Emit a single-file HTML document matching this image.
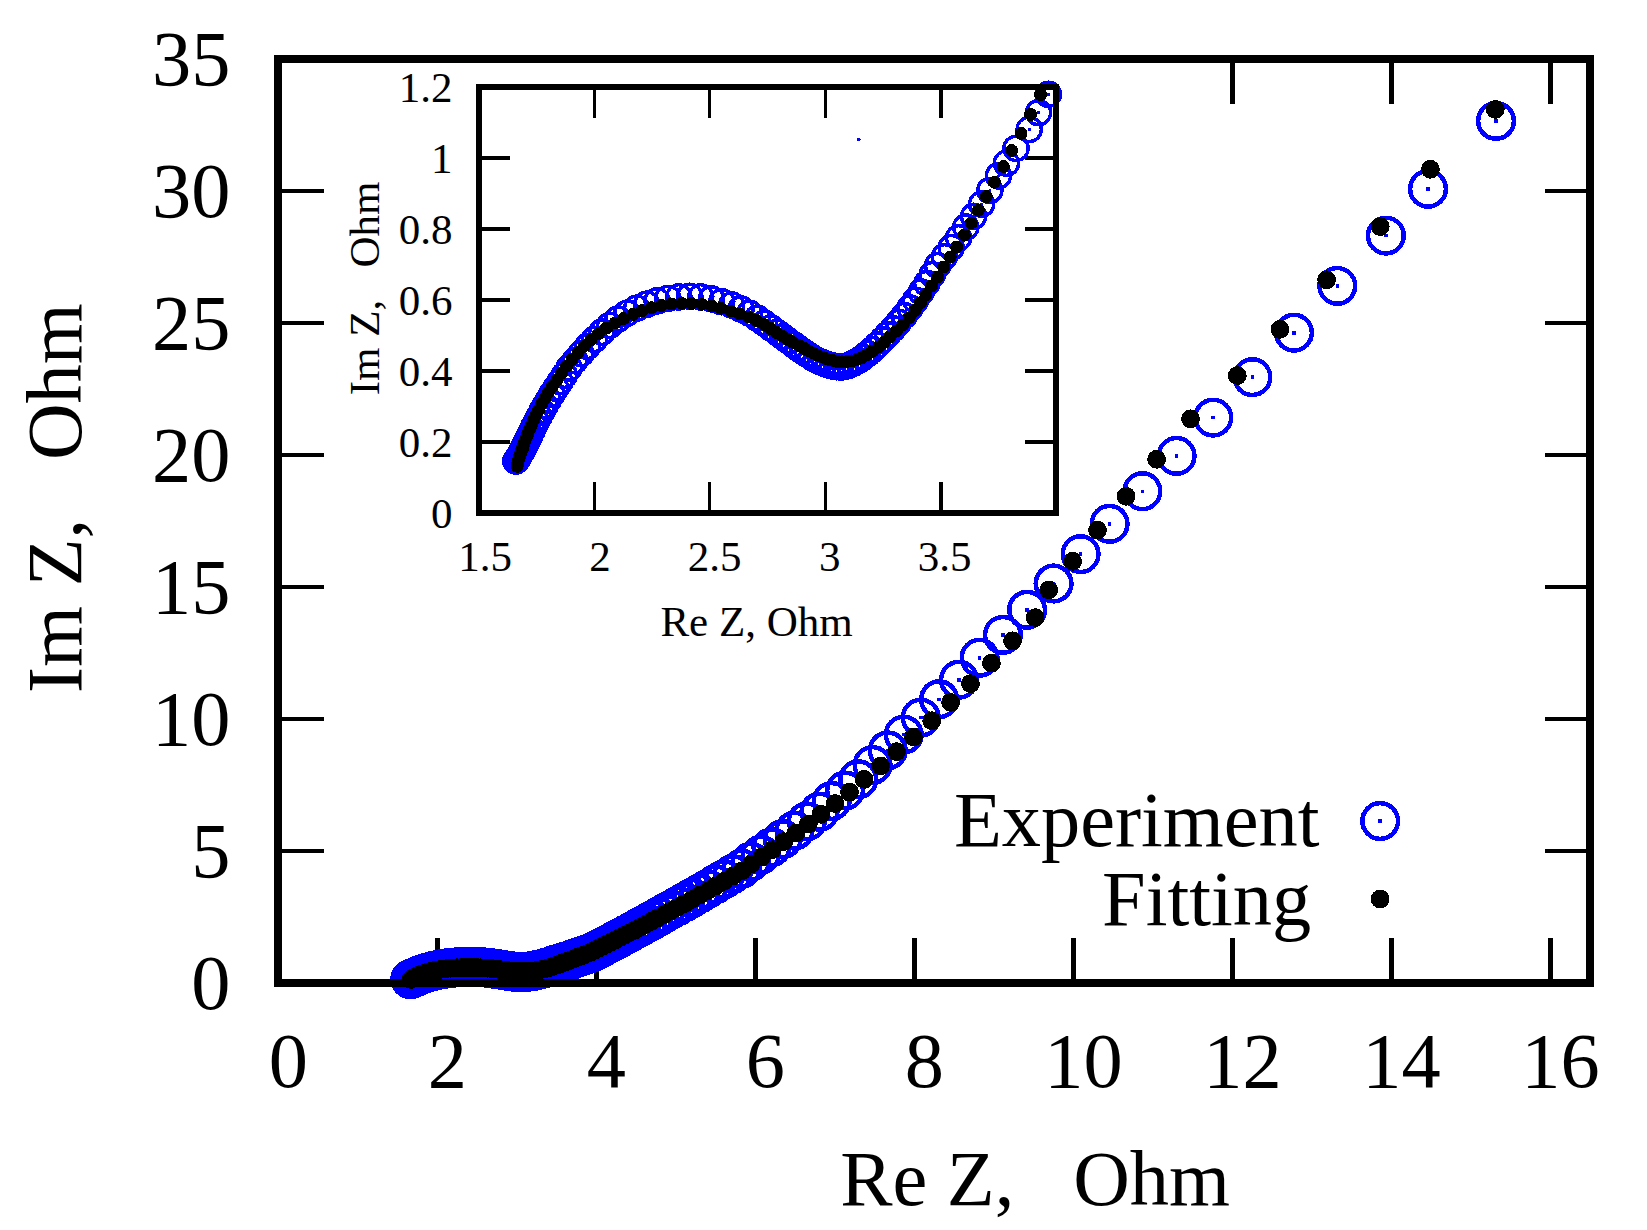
<!DOCTYPE html>
<html lang="en"><head><meta charset="utf-8"><title>Nyquist plot</title>
<style>html,body{margin:0;padding:0;background:#fff}svg{display:block}</style></head>
<body>
<svg width="1647" height="1230" viewBox="0 0 1647 1230">
<rect width="1647" height="1230" fill="#fff"/>
<g shape-rendering="crispEdges">
<rect x="435" y="938" width="5" height="43" fill="#000"/>
<rect x="594" y="938" width="5" height="43" fill="#000"/>
<rect x="753" y="938" width="5" height="43" fill="#000"/>
<rect x="912" y="938" width="5" height="43" fill="#000"/>
<rect x="1071" y="938" width="5" height="43" fill="#000"/>
<rect x="1230" y="938" width="5" height="43" fill="#000"/>
<rect x="1230" y="61" width="5" height="43" fill="#000"/>
<rect x="1389" y="938" width="5" height="43" fill="#000"/>
<rect x="1389" y="61" width="5" height="43" fill="#000"/>
<rect x="1548" y="938" width="5" height="43" fill="#000"/>
<rect x="1548" y="61" width="5" height="43" fill="#000"/>
<rect x="280" y="849" width="44" height="4" fill="#000"/>
<rect x="1545" y="849" width="43" height="4" fill="#000"/>
<rect x="280" y="717" width="44" height="4" fill="#000"/>
<rect x="1545" y="717" width="43" height="4" fill="#000"/>
<rect x="280" y="585" width="44" height="4" fill="#000"/>
<rect x="1545" y="585" width="43" height="4" fill="#000"/>
<rect x="280" y="453" width="44" height="4" fill="#000"/>
<rect x="1545" y="453" width="43" height="4" fill="#000"/>
<rect x="280" y="321" width="44" height="4" fill="#000"/>
<rect x="1545" y="321" width="43" height="4" fill="#000"/>
<rect x="280" y="189" width="44" height="4" fill="#000"/>
<rect x="1545" y="189" width="43" height="4" fill="#000"/>
</g>
<g fill="none" stroke="#0000ff" stroke-width="4.5" shape-rendering="crispEdges">
<circle cx="1496.0" cy="120.9" r="17.85"/>
<circle cx="1428.0" cy="188.8" r="17.85"/>
<circle cx="1385.9" cy="235.6" r="17.85"/>
<circle cx="1337.3" cy="285.9" r="17.85"/>
<circle cx="1294.0" cy="332.7" r="17.85"/>
<circle cx="1252.4" cy="377.1" r="17.85"/>
<circle cx="1213.2" cy="417.6" r="17.85"/>
<circle cx="1176.6" cy="455.9" r="17.85"/>
<circle cx="1142.4" cy="491.2" r="17.85"/>
<circle cx="1109.6" cy="523.8" r="17.85"/>
<circle cx="1080.6" cy="554.1" r="17.85"/>
<circle cx="1053.6" cy="583.5" r="17.85"/>
<circle cx="1027.1" cy="609.8" r="17.85"/>
<circle cx="1002.9" cy="634.9" r="17.85"/>
<circle cx="979.6" cy="657.7" r="17.85"/>
<circle cx="959.0" cy="679.7" r="17.85"/>
<circle cx="939.1" cy="699.2" r="17.85"/>
<circle cx="920.8" cy="717.6" r="17.85"/>
<circle cx="903.7" cy="734.6" r="17.85"/>
<circle cx="887.7" cy="750.4" r="17.85"/>
<circle cx="872.6" cy="765.0" r="17.85"/>
<circle cx="858.3" cy="779.3" r="17.85"/>
<circle cx="845.1" cy="790.5" r="17.85"/>
<circle cx="831.7" cy="801.0" r="17.85"/>
<circle cx="819.5" cy="811.7" r="17.85"/>
<circle cx="806.8" cy="821.4" r="17.85"/>
<circle cx="794.5" cy="830.6" r="17.85"/>
<circle cx="782.7" cy="839.2" r="17.85"/>
<circle cx="771.5" cy="847.3" r="17.85"/>
<circle cx="760.8" cy="854.8" r="17.85"/>
<circle cx="750.8" cy="861.7" r="17.85"/>
<circle cx="741.8" cy="868.6" r="17.85"/>
<circle cx="732.6" cy="874.0" r="17.85"/>
<circle cx="723.8" cy="879.3" r="17.85"/>
<circle cx="715.4" cy="884.3" r="17.85"/>
<circle cx="707.3" cy="889.1" r="17.85"/>
<circle cx="699.5" cy="893.6" r="17.85"/>
<circle cx="692.0" cy="897.9" r="17.85"/>
<circle cx="684.8" cy="902.1" r="17.85"/>
<circle cx="677.8" cy="906.0" r="17.85"/>
<circle cx="671.2" cy="909.7" r="17.85"/>
<circle cx="664.7" cy="913.3" r="17.85"/>
<circle cx="658.6" cy="916.8" r="17.85"/>
<circle cx="652.6" cy="920.1" r="17.85"/>
<circle cx="647.0" cy="923.2" r="17.85"/>
<circle cx="641.5" cy="926.2" r="17.85"/>
<circle cx="636.2" cy="929.1" r="17.85"/>
<circle cx="631.2" cy="931.9" r="17.85"/>
<circle cx="626.3" cy="934.5" r="17.85"/>
<circle cx="621.7" cy="937.0" r="17.85"/>
<circle cx="617.2" cy="939.4" r="17.85"/>
<circle cx="612.9" cy="941.7" r="17.85"/>
<circle cx="608.7" cy="943.9" r="17.85"/>
<circle cx="604.7" cy="946.0" r="17.85"/>
<circle cx="600.9" cy="948.0" r="17.85"/>
<circle cx="597.3" cy="950.0" r="17.85"/>
<circle cx="593.6" cy="951.9" r="17.85"/>
<circle cx="590.2" cy="953.2" r="17.85"/>
<circle cx="587.0" cy="954.5" r="17.85"/>
<circle cx="582.5" cy="955.9" r="17.85"/>
<circle cx="579.2" cy="957.0" r="17.85"/>
<circle cx="576.4" cy="957.9" r="17.85"/>
<circle cx="573.4" cy="959.0" r="17.85"/>
<circle cx="570.6" cy="960.0" r="17.85"/>
<circle cx="567.9" cy="960.9" r="17.85"/>
<circle cx="565.2" cy="961.7" r="17.85"/>
<circle cx="562.7" cy="962.5" r="17.85"/>
<circle cx="560.2" cy="963.3" r="17.85"/>
<circle cx="557.8" cy="963.9" r="17.85"/>
<circle cx="555.5" cy="964.6" r="17.85"/>
<circle cx="553.7" cy="965.3" r="17.85"/>
<circle cx="551.8" cy="965.9" r="17.85"/>
<circle cx="549.9" cy="966.6" r="17.85"/>
<circle cx="547.9" cy="967.2" r="17.85"/>
<circle cx="545.9" cy="967.8" r="17.85"/>
<circle cx="544.0" cy="968.3" r="17.85"/>
<circle cx="542.1" cy="968.8" r="17.85"/>
<circle cx="540.1" cy="969.3" r="17.85"/>
<circle cx="538.3" cy="969.7" r="17.85"/>
<circle cx="536.5" cy="970.1" r="17.85"/>
<circle cx="534.7" cy="970.5" r="17.85"/>
<circle cx="533.1" cy="970.9" r="17.85"/>
<circle cx="531.4" cy="971.2" r="17.85"/>
<circle cx="529.8" cy="971.4" r="17.85"/>
<circle cx="528.2" cy="971.7" r="17.85"/>
<circle cx="526.7" cy="971.8" r="17.85"/>
<circle cx="525.1" cy="972.0" r="17.85"/>
<circle cx="523.6" cy="972.1" r="17.85"/>
<circle cx="522.1" cy="972.1" r="17.85"/>
<circle cx="520.7" cy="972.1" r="17.85"/>
<circle cx="519.4" cy="972.1" r="17.85"/>
<circle cx="518.0" cy="972.0" r="17.85"/>
<circle cx="516.5" cy="971.9" r="17.85"/>
<circle cx="515.1" cy="971.8" r="17.85"/>
<circle cx="513.6" cy="971.6" r="17.85"/>
<circle cx="512.2" cy="971.4" r="17.85"/>
<circle cx="510.7" cy="971.2" r="17.85"/>
<circle cx="509.1" cy="971.0" r="17.85"/>
<circle cx="507.5" cy="970.7" r="17.85"/>
<circle cx="505.8" cy="970.5" r="17.85"/>
<circle cx="504.1" cy="970.2" r="17.85"/>
<circle cx="502.2" cy="969.9" r="17.85"/>
<circle cx="500.2" cy="969.6" r="17.85"/>
<circle cx="498.1" cy="969.2" r="17.85"/>
<circle cx="495.9" cy="968.9" r="17.85"/>
<circle cx="493.4" cy="968.5" r="17.85"/>
<circle cx="490.8" cy="968.2" r="17.85"/>
<circle cx="487.8" cy="967.8" r="17.85"/>
<circle cx="484.6" cy="967.5" r="17.85"/>
<circle cx="481.2" cy="967.3" r="17.85"/>
<circle cx="477.6" cy="967.1" r="17.85"/>
<circle cx="473.9" cy="966.9" r="17.85"/>
<circle cx="470.2" cy="966.9" r="17.85"/>
<circle cx="466.4" cy="966.9" r="17.85"/>
<circle cx="462.7" cy="967.0" r="17.85"/>
<circle cx="459.0" cy="967.2" r="17.85"/>
<circle cx="455.4" cy="967.5" r="17.85"/>
<circle cx="451.9" cy="967.8" r="17.85"/>
<circle cx="448.6" cy="968.1" r="17.85"/>
<circle cx="445.5" cy="968.6" r="17.85"/>
<circle cx="442.6" cy="969.1" r="17.85"/>
<circle cx="439.9" cy="969.6" r="17.85"/>
<circle cx="437.4" cy="970.1" r="17.85"/>
<circle cx="435.0" cy="970.6" r="17.85"/>
<circle cx="432.7" cy="971.1" r="17.85"/>
<circle cx="430.6" cy="971.7" r="17.85"/>
<circle cx="428.7" cy="972.2" r="17.85"/>
<circle cx="427.0" cy="972.7" r="17.85"/>
<circle cx="425.5" cy="973.2" r="17.85"/>
<circle cx="424.1" cy="973.7" r="17.85"/>
<circle cx="422.7" cy="974.2" r="17.85"/>
<circle cx="421.5" cy="974.6" r="17.85"/>
<circle cx="420.3" cy="975.0" r="17.85"/>
<circle cx="419.3" cy="975.4" r="17.85"/>
<circle cx="418.3" cy="975.8" r="17.85"/>
<circle cx="417.4" cy="976.2" r="17.85"/>
<circle cx="416.7" cy="976.5" r="17.85"/>
<circle cx="415.9" cy="976.9" r="17.85"/>
<circle cx="415.3" cy="977.2" r="17.85"/>
<circle cx="414.6" cy="977.4" r="17.85"/>
<circle cx="414.0" cy="977.7" r="17.85"/>
<circle cx="413.5" cy="977.9" r="17.85"/>
<circle cx="413.0" cy="978.2" r="17.85"/>
<circle cx="412.5" cy="978.4" r="17.85"/>
<circle cx="412.0" cy="978.6" r="17.85"/>
<circle cx="411.6" cy="978.7" r="17.85"/>
<circle cx="411.2" cy="978.9" r="17.85"/>
<circle cx="410.7" cy="979.0" r="17.85"/>
<circle cx="410.3" cy="979.1" r="17.85"/>
</g>
<g fill="#0000ff" shape-rendering="crispEdges">
<rect x="1494.2" y="119.1" width="3.5" height="3.5"/>
<rect x="1426.2" y="187.0" width="3.5" height="3.5"/>
<rect x="1384.2" y="233.9" width="3.5" height="3.5"/>
<rect x="1335.6" y="284.1" width="3.5" height="3.5"/>
<rect x="1292.2" y="331.0" width="3.5" height="3.5"/>
<rect x="1250.7" y="375.4" width="3.5" height="3.5"/>
<rect x="1211.4" y="415.9" width="3.5" height="3.5"/>
<rect x="1174.8" y="454.1" width="3.5" height="3.5"/>
<rect x="1140.7" y="489.5" width="3.5" height="3.5"/>
<rect x="1107.8" y="522.0" width="3.5" height="3.5"/>
<rect x="1078.8" y="552.4" width="3.5" height="3.5"/>
<rect x="1051.8" y="581.8" width="3.5" height="3.5"/>
<rect x="1025.3" y="608.0" width="3.5" height="3.5"/>
<rect x="1001.1" y="633.1" width="3.5" height="3.5"/>
<rect x="977.9" y="656.0" width="3.5" height="3.5"/>
<rect x="957.2" y="678.0" width="3.5" height="3.5"/>
<rect x="937.4" y="697.5" width="3.5" height="3.5"/>
<rect x="919.0" y="715.9" width="3.5" height="3.5"/>
<rect x="902.0" y="732.9" width="3.5" height="3.5"/>
<rect x="886.0" y="748.6" width="3.5" height="3.5"/>
<rect x="870.9" y="763.2" width="3.5" height="3.5"/>
<rect x="856.5" y="777.5" width="3.5" height="3.5"/>
<rect x="843.4" y="788.8" width="3.5" height="3.5"/>
<rect x="830.0" y="799.2" width="3.5" height="3.5"/>
<rect x="817.8" y="810.0" width="3.5" height="3.5"/>
<rect x="805.0" y="819.6" width="3.5" height="3.5"/>
<rect x="792.8" y="828.9" width="3.5" height="3.5"/>
<rect x="780.9" y="837.5" width="3.5" height="3.5"/>
<rect x="769.8" y="845.6" width="3.5" height="3.5"/>
<rect x="759.1" y="853.0" width="3.5" height="3.5"/>
<rect x="749.0" y="859.9" width="3.5" height="3.5"/>
<rect x="740.0" y="866.9" width="3.5" height="3.5"/>
<rect x="730.8" y="872.2" width="3.5" height="3.5"/>
<rect x="722.1" y="877.5" width="3.5" height="3.5"/>
<rect x="713.7" y="882.6" width="3.5" height="3.5"/>
<rect x="705.6" y="887.3" width="3.5" height="3.5"/>
<rect x="697.8" y="891.9" width="3.5" height="3.5"/>
<rect x="690.3" y="896.2" width="3.5" height="3.5"/>
<rect x="683.1" y="900.3" width="3.5" height="3.5"/>
<rect x="676.1" y="904.2" width="3.5" height="3.5"/>
<rect x="669.4" y="908.0" width="3.5" height="3.5"/>
<rect x="663.0" y="911.6" width="3.5" height="3.5"/>
<rect x="656.8" y="915.0" width="3.5" height="3.5"/>
<rect x="650.9" y="918.3" width="3.5" height="3.5"/>
<rect x="645.2" y="921.5" width="3.5" height="3.5"/>
<rect x="639.7" y="924.5" width="3.5" height="3.5"/>
<rect x="634.5" y="927.4" width="3.5" height="3.5"/>
<rect x="629.4" y="930.1" width="3.5" height="3.5"/>
<rect x="624.6" y="932.8" width="3.5" height="3.5"/>
<rect x="619.9" y="935.3" width="3.5" height="3.5"/>
<rect x="615.4" y="937.7" width="3.5" height="3.5"/>
<rect x="611.1" y="940.0" width="3.5" height="3.5"/>
<rect x="607.0" y="942.2" width="3.5" height="3.5"/>
<rect x="603.0" y="944.3" width="3.5" height="3.5"/>
<rect x="599.2" y="946.3" width="3.5" height="3.5"/>
<rect x="595.5" y="948.2" width="3.5" height="3.5"/>
<rect x="591.9" y="950.1" width="3.5" height="3.5"/>
<rect x="588.5" y="951.5" width="3.5" height="3.5"/>
<rect x="585.3" y="952.7" width="3.5" height="3.5"/>
<rect x="580.7" y="954.1" width="3.5" height="3.5"/>
<rect x="577.4" y="955.2" width="3.5" height="3.5"/>
<rect x="574.7" y="956.2" width="3.5" height="3.5"/>
<rect x="571.7" y="957.3" width="3.5" height="3.5"/>
<rect x="568.9" y="958.3" width="3.5" height="3.5"/>
<rect x="566.1" y="959.2" width="3.5" height="3.5"/>
<rect x="563.4" y="960.0" width="3.5" height="3.5"/>
<rect x="561.0" y="960.8" width="3.5" height="3.5"/>
<rect x="558.4" y="961.5" width="3.5" height="3.5"/>
<rect x="556.1" y="962.2" width="3.5" height="3.5"/>
<rect x="553.7" y="962.9" width="3.5" height="3.5"/>
<rect x="551.9" y="963.5" width="3.5" height="3.5"/>
<rect x="550.1" y="964.2" width="3.5" height="3.5"/>
<rect x="548.1" y="964.8" width="3.5" height="3.5"/>
<rect x="546.1" y="965.4" width="3.5" height="3.5"/>
<rect x="544.2" y="966.0" width="3.5" height="3.5"/>
<rect x="542.3" y="966.6" width="3.5" height="3.5"/>
<rect x="540.3" y="967.1" width="3.5" height="3.5"/>
<rect x="538.4" y="967.5" width="3.5" height="3.5"/>
<rect x="536.5" y="968.0" width="3.5" height="3.5"/>
<rect x="534.7" y="968.4" width="3.5" height="3.5"/>
<rect x="533.0" y="968.8" width="3.5" height="3.5"/>
<rect x="531.3" y="969.1" width="3.5" height="3.5"/>
<rect x="529.7" y="969.4" width="3.5" height="3.5"/>
<rect x="528.0" y="969.7" width="3.5" height="3.5"/>
<rect x="526.5" y="969.9" width="3.5" height="3.5"/>
<rect x="524.9" y="970.1" width="3.5" height="3.5"/>
<rect x="523.4" y="970.2" width="3.5" height="3.5"/>
<rect x="521.9" y="970.4" width="3.5" height="3.5"/>
<rect x="520.4" y="970.4" width="3.5" height="3.5"/>
<rect x="519.0" y="970.4" width="3.5" height="3.5"/>
<rect x="517.6" y="970.3" width="3.5" height="3.5"/>
<rect x="516.2" y="970.2" width="3.5" height="3.5"/>
<rect x="514.8" y="970.1" width="3.5" height="3.5"/>
<rect x="513.4" y="970.0" width="3.5" height="3.5"/>
<rect x="511.9" y="969.8" width="3.5" height="3.5"/>
<rect x="510.4" y="969.7" width="3.5" height="3.5"/>
<rect x="508.9" y="969.5" width="3.5" height="3.5"/>
<rect x="507.4" y="969.2" width="3.5" height="3.5"/>
<rect x="505.8" y="969.0" width="3.5" height="3.5"/>
<rect x="504.1" y="968.7" width="3.5" height="3.5"/>
<rect x="502.3" y="968.4" width="3.5" height="3.5"/>
<rect x="500.5" y="968.1" width="3.5" height="3.5"/>
<rect x="498.5" y="967.8" width="3.5" height="3.5"/>
<rect x="496.4" y="967.5" width="3.5" height="3.5"/>
<rect x="494.1" y="967.1" width="3.5" height="3.5"/>
<rect x="491.7" y="966.8" width="3.5" height="3.5"/>
<rect x="489.0" y="966.4" width="3.5" height="3.5"/>
<rect x="486.1" y="966.1" width="3.5" height="3.5"/>
<rect x="482.8" y="965.8" width="3.5" height="3.5"/>
<rect x="479.4" y="965.5" width="3.5" height="3.5"/>
<rect x="475.9" y="965.3" width="3.5" height="3.5"/>
<rect x="472.2" y="965.2" width="3.5" height="3.5"/>
<rect x="468.4" y="965.1" width="3.5" height="3.5"/>
<rect x="464.7" y="965.2" width="3.5" height="3.5"/>
<rect x="460.9" y="965.3" width="3.5" height="3.5"/>
<rect x="457.2" y="965.5" width="3.5" height="3.5"/>
<rect x="453.6" y="965.7" width="3.5" height="3.5"/>
<rect x="450.2" y="966.0" width="3.5" height="3.5"/>
<rect x="446.9" y="966.4" width="3.5" height="3.5"/>
<rect x="443.8" y="966.8" width="3.5" height="3.5"/>
<rect x="440.9" y="967.3" width="3.5" height="3.5"/>
<rect x="438.2" y="967.8" width="3.5" height="3.5"/>
<rect x="435.6" y="968.3" width="3.5" height="3.5"/>
<rect x="433.3" y="968.9" width="3.5" height="3.5"/>
<rect x="431.0" y="969.4" width="3.5" height="3.5"/>
<rect x="428.9" y="969.9" width="3.5" height="3.5"/>
<rect x="426.9" y="970.5" width="3.5" height="3.5"/>
<rect x="425.3" y="971.0" width="3.5" height="3.5"/>
<rect x="423.8" y="971.5" width="3.5" height="3.5"/>
<rect x="422.3" y="972.0" width="3.5" height="3.5"/>
<rect x="421.0" y="972.4" width="3.5" height="3.5"/>
<rect x="419.7" y="972.9" width="3.5" height="3.5"/>
<rect x="418.6" y="973.3" width="3.5" height="3.5"/>
<rect x="417.5" y="973.7" width="3.5" height="3.5"/>
<rect x="416.6" y="974.1" width="3.5" height="3.5"/>
<rect x="415.7" y="974.4" width="3.5" height="3.5"/>
<rect x="414.9" y="974.8" width="3.5" height="3.5"/>
<rect x="414.2" y="975.1" width="3.5" height="3.5"/>
<rect x="413.5" y="975.4" width="3.5" height="3.5"/>
<rect x="412.9" y="975.7" width="3.5" height="3.5"/>
<rect x="412.3" y="975.9" width="3.5" height="3.5"/>
<rect x="411.7" y="976.2" width="3.5" height="3.5"/>
<rect x="411.2" y="976.4" width="3.5" height="3.5"/>
<rect x="410.7" y="976.6" width="3.5" height="3.5"/>
<rect x="410.3" y="976.8" width="3.5" height="3.5"/>
<rect x="409.8" y="977.0" width="3.5" height="3.5"/>
<rect x="409.4" y="977.1" width="3.5" height="3.5"/>
<rect x="409.0" y="977.3" width="3.5" height="3.5"/>
<rect x="408.6" y="977.4" width="3.5" height="3.5"/>
</g>
<g fill="#000" shape-rendering="crispEdges">
<circle cx="1495.3" cy="109.4" r="9.4"/>
<circle cx="1430.4" cy="169.3" r="9.4"/>
<circle cx="1380.2" cy="226.6" r="9.4"/>
<circle cx="1326.6" cy="279.8" r="9.4"/>
<circle cx="1279.9" cy="329.4" r="9.4"/>
<circle cx="1237.3" cy="375.6" r="9.4"/>
<circle cx="1190.5" cy="418.8" r="9.4"/>
<circle cx="1156.6" cy="459.3" r="9.4"/>
<circle cx="1126.1" cy="496.3" r="9.4"/>
<circle cx="1097.5" cy="530.2" r="9.4"/>
<circle cx="1072.6" cy="561.3" r="9.4"/>
<circle cx="1048.7" cy="589.9" r="9.4"/>
<circle cx="1035.2" cy="617.6" r="9.4"/>
<circle cx="1012.5" cy="640.8" r="9.4"/>
<circle cx="991.4" cy="663.2" r="9.4"/>
<circle cx="970.5" cy="683.6" r="9.4"/>
<circle cx="950.6" cy="702.4" r="9.4"/>
<circle cx="931.7" cy="720.7" r="9.4"/>
<circle cx="913.5" cy="736.9" r="9.4"/>
<circle cx="896.6" cy="751.6" r="9.4"/>
<circle cx="880.6" cy="765.9" r="9.4"/>
<circle cx="864.1" cy="779.4" r="9.4"/>
<circle cx="849.5" cy="792.1" r="9.4"/>
<circle cx="835.0" cy="803.5" r="9.4"/>
<circle cx="821.0" cy="814.3" r="9.4"/>
<circle cx="808.3" cy="824.0" r="9.4"/>
<circle cx="795.8" cy="833.1" r="9.4"/>
<circle cx="783.8" cy="841.6" r="9.4"/>
<circle cx="772.4" cy="849.6" r="9.4"/>
<circle cx="761.6" cy="857.0" r="9.4"/>
<circle cx="751.4" cy="863.8" r="9.4"/>
<circle cx="742.3" cy="870.6" r="9.4"/>
<circle cx="733.1" cy="876.0" r="9.4"/>
<circle cx="724.2" cy="881.2" r="9.4"/>
<circle cx="715.7" cy="886.1" r="9.4"/>
<circle cx="707.4" cy="890.8" r="9.4"/>
<circle cx="699.5" cy="895.3" r="9.4"/>
<circle cx="691.8" cy="899.5" r="9.4"/>
<circle cx="684.5" cy="903.6" r="9.4"/>
<circle cx="677.4" cy="907.4" r="9.4"/>
<circle cx="670.6" cy="911.1" r="9.4"/>
<circle cx="664.0" cy="914.6" r="9.4"/>
<circle cx="657.7" cy="917.9" r="9.4"/>
<circle cx="651.6" cy="921.2" r="9.4"/>
<circle cx="645.8" cy="924.2" r="9.4"/>
<circle cx="640.2" cy="927.2" r="9.4"/>
<circle cx="634.8" cy="930.0" r="9.4"/>
<circle cx="629.6" cy="932.6" r="9.4"/>
<circle cx="624.6" cy="935.2" r="9.4"/>
<circle cx="619.8" cy="937.6" r="9.4"/>
<circle cx="615.2" cy="940.0" r="9.4"/>
<circle cx="610.7" cy="942.2" r="9.4"/>
<circle cx="606.4" cy="944.3" r="9.4"/>
<circle cx="602.3" cy="946.3" r="9.4"/>
<circle cx="598.4" cy="948.2" r="9.4"/>
<circle cx="594.6" cy="950.1" r="9.4"/>
<circle cx="590.9" cy="951.9" r="9.4"/>
<circle cx="587.5" cy="953.4" r="9.4"/>
<circle cx="584.2" cy="954.8" r="9.4"/>
<circle cx="580.9" cy="956.0" r="9.4"/>
<circle cx="578.1" cy="957.2" r="9.4"/>
<circle cx="575.0" cy="958.4" r="9.4"/>
<circle cx="572.2" cy="959.5" r="9.4"/>
<circle cx="569.5" cy="960.5" r="9.4"/>
<circle cx="567.0" cy="961.4" r="9.4"/>
<circle cx="564.7" cy="962.3" r="9.4"/>
<circle cx="562.0" cy="963.2" r="9.4"/>
<circle cx="559.9" cy="964.0" r="9.4"/>
<circle cx="557.5" cy="964.7" r="9.4"/>
<circle cx="555.4" cy="965.4" r="9.4"/>
<circle cx="553.4" cy="966.1" r="9.4"/>
<circle cx="551.5" cy="966.8" r="9.4"/>
<circle cx="549.6" cy="967.4" r="9.4"/>
<circle cx="547.8" cy="967.9" r="9.4"/>
<circle cx="545.7" cy="968.5" r="9.4"/>
<circle cx="543.6" cy="969.0" r="9.4"/>
<circle cx="541.3" cy="969.5" r="9.4"/>
<circle cx="539.2" cy="969.9" r="9.4"/>
<circle cx="537.1" cy="970.3" r="9.4"/>
<circle cx="535.1" cy="970.7" r="9.4"/>
<circle cx="533.2" cy="971.0" r="9.4"/>
<circle cx="531.3" cy="971.2" r="9.4"/>
<circle cx="529.4" cy="971.4" r="9.4"/>
<circle cx="527.6" cy="971.6" r="9.4"/>
<circle cx="525.9" cy="971.7" r="9.4"/>
<circle cx="524.2" cy="971.7" r="9.4"/>
<circle cx="522.7" cy="971.8" r="9.4"/>
<circle cx="521.2" cy="971.7" r="9.4"/>
<circle cx="519.8" cy="971.7" r="9.4"/>
<circle cx="518.4" cy="971.6" r="9.4"/>
<circle cx="517.0" cy="971.5" r="9.4"/>
<circle cx="515.6" cy="971.4" r="9.4"/>
<circle cx="514.2" cy="971.3" r="9.4"/>
<circle cx="512.7" cy="971.1" r="9.4"/>
<circle cx="511.1" cy="970.9" r="9.4"/>
<circle cx="509.5" cy="970.8" r="9.4"/>
<circle cx="507.7" cy="970.6" r="9.4"/>
<circle cx="505.9" cy="970.3" r="9.4"/>
<circle cx="504.1" cy="970.1" r="9.4"/>
<circle cx="502.1" cy="969.9" r="9.4"/>
<circle cx="500.0" cy="969.6" r="9.4"/>
<circle cx="497.8" cy="969.3" r="9.4"/>
<circle cx="495.5" cy="969.0" r="9.4"/>
<circle cx="493.0" cy="968.7" r="9.4"/>
<circle cx="490.2" cy="968.4" r="9.4"/>
<circle cx="487.3" cy="968.2" r="9.4"/>
<circle cx="484.1" cy="968.0" r="9.4"/>
<circle cx="480.9" cy="967.8" r="9.4"/>
<circle cx="477.6" cy="967.6" r="9.4"/>
<circle cx="474.2" cy="967.5" r="9.4"/>
<circle cx="470.8" cy="967.4" r="9.4"/>
<circle cx="467.3" cy="967.4" r="9.4"/>
<circle cx="463.8" cy="967.5" r="9.4"/>
<circle cx="460.4" cy="967.6" r="9.4"/>
<circle cx="457.0" cy="967.7" r="9.4"/>
<circle cx="453.7" cy="968.0" r="9.4"/>
<circle cx="450.5" cy="968.2" r="9.4"/>
<circle cx="447.4" cy="968.5" r="9.4"/>
<circle cx="444.4" cy="968.9" r="9.4"/>
<circle cx="441.5" cy="969.2" r="9.4"/>
<circle cx="438.8" cy="969.7" r="9.4"/>
<circle cx="436.3" cy="970.1" r="9.4"/>
<circle cx="433.9" cy="970.6" r="9.4"/>
<circle cx="431.7" cy="971.1" r="9.4"/>
<circle cx="429.7" cy="971.6" r="9.4"/>
<circle cx="427.8" cy="972.1" r="9.4"/>
<circle cx="426.1" cy="972.6" r="9.4"/>
<circle cx="424.5" cy="973.1" r="9.4"/>
<circle cx="422.9" cy="973.6" r="9.4"/>
<circle cx="421.5" cy="974.0" r="9.4"/>
<circle cx="420.3" cy="974.5" r="9.4"/>
<circle cx="419.2" cy="974.9" r="9.4"/>
<circle cx="418.2" cy="975.3" r="9.4"/>
<circle cx="417.2" cy="975.7" r="9.4"/>
<circle cx="416.4" cy="976.1" r="9.4"/>
<circle cx="415.7" cy="976.5" r="9.4"/>
<circle cx="415.0" cy="976.8" r="9.4"/>
<circle cx="414.4" cy="977.1" r="9.4"/>
<circle cx="413.9" cy="977.4" r="9.4"/>
<circle cx="413.4" cy="977.7" r="9.4"/>
<circle cx="413.0" cy="977.9" r="9.4"/>
<circle cx="412.6" cy="978.2" r="9.4"/>
<circle cx="412.2" cy="978.4" r="9.4"/>
<circle cx="411.9" cy="978.6" r="9.4"/>
<circle cx="411.6" cy="978.8" r="9.4"/>
<circle cx="411.4" cy="978.9" r="9.4"/>
<circle cx="411.2" cy="979.1" r="9.4"/>
<circle cx="411.0" cy="979.3" r="9.4"/>
<circle cx="410.9" cy="979.4" r="9.4"/>
<circle cx="410.8" cy="979.5" r="9.4"/>
</g>
<g shape-rendering="crispEdges">
<circle cx="1380.2" cy="821" r="17.85" fill="none" stroke="#0000ff" stroke-width="4.5"/>
<rect x="1378.4" y="819.2" width="3.5" height="3.5" fill="#0000ff"/>
<circle cx="1380.2" cy="899" r="9.4" fill="#000"/>
</g>
<g shape-rendering="crispEdges">
<rect x="274" y="55" width="1320" height="8" fill="#000"/>
<rect x="274" y="979" width="1320" height="8" fill="#000"/>
<rect x="274" y="55" width="8" height="932" fill="#000"/>
<rect x="1586" y="55" width="8" height="932" fill="#000"/>
</g>
<g style="font-family:'Liberation Serif','Times New Roman',Times,serif;font-size:78.4px" fill="#000">
<text x="230.5" y="1009.0" text-anchor="end">0</text>
<text x="230.5" y="877.0" text-anchor="end">5</text>
<text x="230.5" y="745.0" text-anchor="end">10</text>
<text x="230.5" y="613.0" text-anchor="end">15</text>
<text x="230.5" y="481.0" text-anchor="end">20</text>
<text x="230.5" y="349.0" text-anchor="end">25</text>
<text x="230.5" y="217.0" text-anchor="end">30</text>
<text x="230.5" y="85.0" text-anchor="end">35</text>
<text x="288.4" y="1087" text-anchor="middle">0</text>
<text x="447.4" y="1087" text-anchor="middle">2</text>
<text x="606.4" y="1087" text-anchor="middle">4</text>
<text x="765.4" y="1087" text-anchor="middle">6</text>
<text x="924.4" y="1087" text-anchor="middle">8</text>
<text x="1083.4" y="1087" text-anchor="middle">10</text>
<text x="1242.4" y="1087" text-anchor="middle">12</text>
<text x="1401.4" y="1087" text-anchor="middle">14</text>
<text x="1560.4" y="1087" text-anchor="middle">16</text>
<text x="840.2" y="1204.7" xml:space="preserve">Re Z,   Ohm</text>
<text transform="translate(80.8,693) rotate(-90)" xml:space="preserve">Im Z,   Ohm</text>
<text x="1319.6" y="846.3" text-anchor="end">Experiment</text>
<text x="1311.2" y="925.3" text-anchor="end">Fitting</text>
</g>
<g shape-rendering="crispEdges">
<rect x="593" y="482" width="3" height="30" fill="#000"/>
<rect x="593" y="88" width="3" height="30" fill="#000"/>
<rect x="708" y="482" width="3" height="30" fill="#000"/>
<rect x="708" y="88" width="3" height="30" fill="#000"/>
<rect x="824" y="482" width="3" height="30" fill="#000"/>
<rect x="824" y="88" width="3" height="30" fill="#000"/>
<rect x="939" y="482" width="4" height="30" fill="#000"/>
<rect x="939" y="88" width="4" height="30" fill="#000"/>
<rect x="480" y="440" width="30" height="4" fill="#000"/>
<rect x="1025" y="440" width="30" height="4" fill="#000"/>
<rect x="480" y="369" width="30" height="4" fill="#000"/>
<rect x="1025" y="369" width="30" height="4" fill="#000"/>
<rect x="480" y="298" width="30" height="4" fill="#000"/>
<rect x="1025" y="298" width="30" height="4" fill="#000"/>
<rect x="480" y="227" width="30" height="4" fill="#000"/>
<rect x="1025" y="227" width="30" height="4" fill="#000"/>
<rect x="480" y="156" width="30" height="4" fill="#000"/>
<rect x="1025" y="156" width="30" height="4" fill="#000"/>
</g>
<g fill="none" stroke="#0000ff" stroke-width="3.4" shape-rendering="crispEdges">
<circle cx="1048.4" cy="94.3" r="12.15"/>
<circle cx="1038.5" cy="112.6" r="12.15"/>
<circle cx="1029.2" cy="129.4" r="12.15"/>
<circle cx="1016.0" cy="148.4" r="12.15"/>
<circle cx="1006.4" cy="163.2" r="12.15"/>
<circle cx="998.4" cy="175.9" r="12.15"/>
<circle cx="989.8" cy="190.5" r="12.15"/>
<circle cx="981.6" cy="204.1" r="12.15"/>
<circle cx="973.6" cy="216.3" r="12.15"/>
<circle cx="965.8" cy="227.1" r="12.15"/>
<circle cx="958.6" cy="237.8" r="12.15"/>
<circle cx="951.2" cy="247.6" r="12.15"/>
<circle cx="944.4" cy="256.8" r="12.15"/>
<circle cx="937.6" cy="265.6" r="12.15"/>
<circle cx="932.3" cy="274.7" r="12.15"/>
<circle cx="926.9" cy="283.5" r="12.15"/>
<circle cx="921.3" cy="292.0" r="12.15"/>
<circle cx="915.6" cy="300.2" r="12.15"/>
<circle cx="909.9" cy="308.0" r="12.15"/>
<circle cx="904.3" cy="315.6" r="12.15"/>
<circle cx="898.6" cy="322.4" r="12.15"/>
<circle cx="893.0" cy="328.7" r="12.15"/>
<circle cx="887.6" cy="334.6" r="12.15"/>
<circle cx="882.4" cy="340.0" r="12.15"/>
<circle cx="877.3" cy="345.0" r="12.15"/>
<circle cx="872.4" cy="349.7" r="12.15"/>
<circle cx="867.7" cy="353.8" r="12.15"/>
<circle cx="863.0" cy="357.4" r="12.15"/>
<circle cx="858.4" cy="360.5" r="12.15"/>
<circle cx="853.8" cy="363.0" r="12.15"/>
<circle cx="849.4" cy="365.1" r="12.15"/>
<circle cx="845.0" cy="366.4" r="12.15"/>
<circle cx="840.7" cy="367.0" r="12.15"/>
<circle cx="836.6" cy="366.7" r="12.15"/>
<circle cx="832.6" cy="366.0" r="12.15"/>
<circle cx="828.6" cy="364.9" r="12.15"/>
<circle cx="824.4" cy="363.5" r="12.15"/>
<circle cx="820.3" cy="361.7" r="12.15"/>
<circle cx="816.0" cy="359.7" r="12.15"/>
<circle cx="811.8" cy="357.2" r="12.15"/>
<circle cx="807.4" cy="354.4" r="12.15"/>
<circle cx="802.9" cy="351.4" r="12.15"/>
<circle cx="798.2" cy="348.1" r="12.15"/>
<circle cx="793.4" cy="344.6" r="12.15"/>
<circle cx="788.2" cy="340.8" r="12.15"/>
<circle cx="782.8" cy="336.7" r="12.15"/>
<circle cx="777.0" cy="332.4" r="12.15"/>
<circle cx="770.9" cy="327.9" r="12.15"/>
<circle cx="764.4" cy="323.1" r="12.15"/>
<circle cx="757.3" cy="318.2" r="12.15"/>
<circle cx="749.6" cy="313.3" r="12.15"/>
<circle cx="741.0" cy="308.9" r="12.15"/>
<circle cx="731.6" cy="305.0" r="12.15"/>
<circle cx="721.7" cy="301.7" r="12.15"/>
<circle cx="711.4" cy="298.8" r="12.15"/>
<circle cx="700.7" cy="296.9" r="12.15"/>
<circle cx="689.8" cy="296.3" r="12.15"/>
<circle cx="678.8" cy="296.9" r="12.15"/>
<circle cx="667.9" cy="298.4" r="12.15"/>
<circle cx="657.2" cy="300.8" r="12.15"/>
<circle cx="646.8" cy="304.2" r="12.15"/>
<circle cx="636.7" cy="308.2" r="12.15"/>
<circle cx="627.1" cy="313.2" r="12.15"/>
<circle cx="618.1" cy="319.0" r="12.15"/>
<circle cx="609.7" cy="325.4" r="12.15"/>
<circle cx="601.9" cy="332.2" r="12.15"/>
<circle cx="594.5" cy="339.3" r="12.15"/>
<circle cx="587.5" cy="346.4" r="12.15"/>
<circle cx="581.0" cy="353.6" r="12.15"/>
<circle cx="574.9" cy="360.7" r="12.15"/>
<circle cx="569.2" cy="367.8" r="12.15"/>
<circle cx="564.4" cy="375.1" r="12.15"/>
<circle cx="560.0" cy="381.7" r="12.15"/>
<circle cx="555.8" cy="388.1" r="12.15"/>
<circle cx="551.9" cy="394.3" r="12.15"/>
<circle cx="548.3" cy="400.2" r="12.15"/>
<circle cx="544.9" cy="405.9" r="12.15"/>
<circle cx="541.8" cy="411.4" r="12.15"/>
<circle cx="539.1" cy="416.6" r="12.15"/>
<circle cx="536.5" cy="421.5" r="12.15"/>
<circle cx="534.2" cy="426.1" r="12.15"/>
<circle cx="532.1" cy="430.5" r="12.15"/>
<circle cx="530.2" cy="434.5" r="12.15"/>
<circle cx="528.4" cy="438.2" r="12.15"/>
<circle cx="526.6" cy="441.7" r="12.15"/>
<circle cx="525.0" cy="444.9" r="12.15"/>
<circle cx="523.5" cy="447.9" r="12.15"/>
<circle cx="522.1" cy="450.6" r="12.15"/>
<circle cx="520.7" cy="453.2" r="12.15"/>
<circle cx="519.5" cy="455.6" r="12.15"/>
<circle cx="518.2" cy="457.7" r="12.15"/>
<circle cx="517.0" cy="459.7" r="12.15"/>
<circle cx="515.8" cy="461.0" r="12.15"/>
</g>
<g fill="#0000ff" shape-rendering="crispEdges">
<rect x="1047.2" y="93.0" width="2.5" height="2.5"/>
<rect x="1037.2" y="111.4" width="2.5" height="2.5"/>
<rect x="1028.0" y="128.1" width="2.5" height="2.5"/>
<rect x="1014.8" y="147.1" width="2.5" height="2.5"/>
<rect x="1005.1" y="161.9" width="2.5" height="2.5"/>
<rect x="997.1" y="174.6" width="2.5" height="2.5"/>
<rect x="988.5" y="189.2" width="2.5" height="2.5"/>
<rect x="980.4" y="202.9" width="2.5" height="2.5"/>
<rect x="972.4" y="215.1" width="2.5" height="2.5"/>
<rect x="964.5" y="225.9" width="2.5" height="2.5"/>
<rect x="957.4" y="236.6" width="2.5" height="2.5"/>
<rect x="950.0" y="246.4" width="2.5" height="2.5"/>
<rect x="943.1" y="255.6" width="2.5" height="2.5"/>
<rect x="936.3" y="264.4" width="2.5" height="2.5"/>
<rect x="931.1" y="273.4" width="2.5" height="2.5"/>
<rect x="925.7" y="282.3" width="2.5" height="2.5"/>
<rect x="920.0" y="290.8" width="2.5" height="2.5"/>
<rect x="914.3" y="298.9" width="2.5" height="2.5"/>
<rect x="908.7" y="306.8" width="2.5" height="2.5"/>
<rect x="903.0" y="314.3" width="2.5" height="2.5"/>
<rect x="897.4" y="321.2" width="2.5" height="2.5"/>
<rect x="891.8" y="327.5" width="2.5" height="2.5"/>
<rect x="886.4" y="333.3" width="2.5" height="2.5"/>
<rect x="881.1" y="338.7" width="2.5" height="2.5"/>
<rect x="876.1" y="343.8" width="2.5" height="2.5"/>
<rect x="871.2" y="348.4" width="2.5" height="2.5"/>
<rect x="866.4" y="352.5" width="2.5" height="2.5"/>
<rect x="861.7" y="356.1" width="2.5" height="2.5"/>
<rect x="857.1" y="359.2" width="2.5" height="2.5"/>
<rect x="852.6" y="361.8" width="2.5" height="2.5"/>
<rect x="848.2" y="363.8" width="2.5" height="2.5"/>
<rect x="843.8" y="365.2" width="2.5" height="2.5"/>
<rect x="839.5" y="365.7" width="2.5" height="2.5"/>
<rect x="835.3" y="365.5" width="2.5" height="2.5"/>
<rect x="831.4" y="364.7" width="2.5" height="2.5"/>
<rect x="827.3" y="363.6" width="2.5" height="2.5"/>
<rect x="823.2" y="362.2" width="2.5" height="2.5"/>
<rect x="819.0" y="360.5" width="2.5" height="2.5"/>
<rect x="814.8" y="358.4" width="2.5" height="2.5"/>
<rect x="810.5" y="356.0" width="2.5" height="2.5"/>
<rect x="806.2" y="353.2" width="2.5" height="2.5"/>
<rect x="801.7" y="350.1" width="2.5" height="2.5"/>
<rect x="797.0" y="346.9" width="2.5" height="2.5"/>
<rect x="792.1" y="343.4" width="2.5" height="2.5"/>
<rect x="787.0" y="339.6" width="2.5" height="2.5"/>
<rect x="781.6" y="335.5" width="2.5" height="2.5"/>
<rect x="775.8" y="331.2" width="2.5" height="2.5"/>
<rect x="769.7" y="326.6" width="2.5" height="2.5"/>
<rect x="763.1" y="321.8" width="2.5" height="2.5"/>
<rect x="756.0" y="316.9" width="2.5" height="2.5"/>
<rect x="748.3" y="312.1" width="2.5" height="2.5"/>
<rect x="739.8" y="307.6" width="2.5" height="2.5"/>
<rect x="730.3" y="303.8" width="2.5" height="2.5"/>
<rect x="720.4" y="300.4" width="2.5" height="2.5"/>
<rect x="710.1" y="297.6" width="2.5" height="2.5"/>
<rect x="699.4" y="295.6" width="2.5" height="2.5"/>
<rect x="688.5" y="295.1" width="2.5" height="2.5"/>
<rect x="677.5" y="295.6" width="2.5" height="2.5"/>
<rect x="666.7" y="297.1" width="2.5" height="2.5"/>
<rect x="655.9" y="299.6" width="2.5" height="2.5"/>
<rect x="645.5" y="303.0" width="2.5" height="2.5"/>
<rect x="635.4" y="307.0" width="2.5" height="2.5"/>
<rect x="625.8" y="311.9" width="2.5" height="2.5"/>
<rect x="616.9" y="317.7" width="2.5" height="2.5"/>
<rect x="608.5" y="324.2" width="2.5" height="2.5"/>
<rect x="600.6" y="331.0" width="2.5" height="2.5"/>
<rect x="593.2" y="338.0" width="2.5" height="2.5"/>
<rect x="586.3" y="345.2" width="2.5" height="2.5"/>
<rect x="579.7" y="352.4" width="2.5" height="2.5"/>
<rect x="573.6" y="359.5" width="2.5" height="2.5"/>
<rect x="567.9" y="366.5" width="2.5" height="2.5"/>
<rect x="563.2" y="373.9" width="2.5" height="2.5"/>
<rect x="558.7" y="380.5" width="2.5" height="2.5"/>
<rect x="554.5" y="386.9" width="2.5" height="2.5"/>
<rect x="550.6" y="393.0" width="2.5" height="2.5"/>
<rect x="547.0" y="399.0" width="2.5" height="2.5"/>
<rect x="543.7" y="404.7" width="2.5" height="2.5"/>
<rect x="540.6" y="410.2" width="2.5" height="2.5"/>
<rect x="537.8" y="415.4" width="2.5" height="2.5"/>
<rect x="535.3" y="420.3" width="2.5" height="2.5"/>
<rect x="533.0" y="424.9" width="2.5" height="2.5"/>
<rect x="530.8" y="429.2" width="2.5" height="2.5"/>
<rect x="528.9" y="433.2" width="2.5" height="2.5"/>
<rect x="527.1" y="437.0" width="2.5" height="2.5"/>
<rect x="525.4" y="440.5" width="2.5" height="2.5"/>
<rect x="523.8" y="443.7" width="2.5" height="2.5"/>
<rect x="522.3" y="446.6" width="2.5" height="2.5"/>
<rect x="520.8" y="449.4" width="2.5" height="2.5"/>
<rect x="519.5" y="451.9" width="2.5" height="2.5"/>
<rect x="518.2" y="454.3" width="2.5" height="2.5"/>
<rect x="517.0" y="456.5" width="2.5" height="2.5"/>
<rect x="515.8" y="458.5" width="2.5" height="2.5"/>
<rect x="514.5" y="459.8" width="2.5" height="2.5"/>
</g>
<g fill="#000" shape-rendering="crispEdges">
<circle cx="1040.6" cy="94.6" r="6.5"/>
<circle cx="1030.5" cy="114.4" r="6.5"/>
<circle cx="1021.0" cy="133.4" r="6.5"/>
<circle cx="1011.6" cy="150.6" r="6.5"/>
<circle cx="1003.4" cy="166.6" r="6.5"/>
<circle cx="994.4" cy="182.3" r="6.5"/>
<circle cx="986.3" cy="196.5" r="6.5"/>
<circle cx="978.4" cy="210.3" r="6.5"/>
<circle cx="971.2" cy="223.0" r="6.5"/>
<circle cx="964.3" cy="235.1" r="6.5"/>
<circle cx="956.6" cy="247.1" r="6.5"/>
<circle cx="950.3" cy="257.0" r="6.5"/>
<circle cx="943.6" cy="267.0" r="6.5"/>
<circle cx="937.5" cy="277.0" r="6.5"/>
<circle cx="931.6" cy="286.0" r="6.5"/>
<circle cx="926.0" cy="294.5" r="6.5"/>
<circle cx="920.4" cy="302.8" r="6.5"/>
<circle cx="915.2" cy="310.4" r="6.5"/>
<circle cx="909.2" cy="317.9" r="6.5"/>
<circle cx="903.2" cy="324.9" r="6.5"/>
<circle cx="896.5" cy="330.9" r="6.5"/>
<circle cx="890.2" cy="336.7" r="6.5"/>
<circle cx="884.3" cy="342.3" r="6.5"/>
<circle cx="878.5" cy="347.1" r="6.5"/>
<circle cx="872.8" cy="351.3" r="6.5"/>
<circle cx="867.3" cy="354.8" r="6.5"/>
<circle cx="861.9" cy="357.6" r="6.5"/>
<circle cx="856.6" cy="359.6" r="6.5"/>
<circle cx="851.6" cy="360.9" r="6.5"/>
<circle cx="846.8" cy="361.6" r="6.5"/>
<circle cx="842.3" cy="361.8" r="6.5"/>
<circle cx="838.1" cy="361.6" r="6.5"/>
<circle cx="834.0" cy="360.9" r="6.5"/>
<circle cx="829.9" cy="360.0" r="6.5"/>
<circle cx="825.9" cy="358.7" r="6.5"/>
<circle cx="821.8" cy="357.0" r="6.5"/>
<circle cx="817.6" cy="355.1" r="6.5"/>
<circle cx="813.2" cy="353.0" r="6.5"/>
<circle cx="808.7" cy="350.8" r="6.5"/>
<circle cx="803.9" cy="348.3" r="6.5"/>
<circle cx="798.9" cy="345.7" r="6.5"/>
<circle cx="793.7" cy="342.8" r="6.5"/>
<circle cx="788.2" cy="339.7" r="6.5"/>
<circle cx="782.4" cy="336.3" r="6.5"/>
<circle cx="776.4" cy="332.6" r="6.5"/>
<circle cx="770.1" cy="328.5" r="6.5"/>
<circle cx="763.4" cy="324.3" r="6.5"/>
<circle cx="756.1" cy="320.4" r="6.5"/>
<circle cx="748.0" cy="317.0" r="6.5"/>
<circle cx="739.4" cy="313.9" r="6.5"/>
<circle cx="730.2" cy="311.0" r="6.5"/>
<circle cx="720.9" cy="308.3" r="6.5"/>
<circle cx="711.3" cy="306.0" r="6.5"/>
<circle cx="701.5" cy="304.3" r="6.5"/>
<circle cx="691.5" cy="303.5" r="6.5"/>
<circle cx="681.4" cy="303.3" r="6.5"/>
<circle cx="671.3" cy="304.0" r="6.5"/>
<circle cx="661.3" cy="305.5" r="6.5"/>
<circle cx="651.5" cy="307.7" r="6.5"/>
<circle cx="642.0" cy="310.7" r="6.5"/>
<circle cx="632.7" cy="314.4" r="6.5"/>
<circle cx="623.7" cy="318.5" r="6.5"/>
<circle cx="614.9" cy="323.0" r="6.5"/>
<circle cx="606.5" cy="328.0" r="6.5"/>
<circle cx="598.6" cy="333.5" r="6.5"/>
<circle cx="591.2" cy="339.5" r="6.5"/>
<circle cx="584.4" cy="345.9" r="6.5"/>
<circle cx="578.1" cy="352.5" r="6.5"/>
<circle cx="572.1" cy="359.3" r="6.5"/>
<circle cx="566.6" cy="366.2" r="6.5"/>
<circle cx="561.6" cy="373.2" r="6.5"/>
<circle cx="556.9" cy="379.7" r="6.5"/>
<circle cx="552.4" cy="386.0" r="6.5"/>
<circle cx="548.4" cy="392.3" r="6.5"/>
<circle cx="544.9" cy="398.4" r="6.5"/>
<circle cx="541.6" cy="404.3" r="6.5"/>
<circle cx="538.6" cy="409.9" r="6.5"/>
<circle cx="535.9" cy="415.3" r="6.5"/>
<circle cx="533.5" cy="420.3" r="6.5"/>
<circle cx="531.3" cy="425.1" r="6.5"/>
<circle cx="529.4" cy="429.6" r="6.5"/>
<circle cx="527.7" cy="433.8" r="6.5"/>
<circle cx="526.2" cy="437.8" r="6.5"/>
<circle cx="524.8" cy="441.4" r="6.5"/>
<circle cx="523.6" cy="444.8" r="6.5"/>
<circle cx="522.5" cy="448.0" r="6.5"/>
<circle cx="521.4" cy="450.9" r="6.5"/>
<circle cx="520.5" cy="453.6" r="6.5"/>
<circle cx="519.6" cy="456.1" r="6.5"/>
<circle cx="518.9" cy="458.5" r="6.5"/>
<circle cx="518.3" cy="460.7" r="6.5"/>
<circle cx="517.8" cy="462.7" r="6.5"/>
<circle cx="517.4" cy="464.6" r="6.5"/>
<circle cx="517.1" cy="466.3" r="6.5"/>
</g>
<g shape-rendering="crispEdges">
<rect x="857" y="138" width="3" height="3" fill="#0000ff"/>
<rect x="860" y="139" width="1" height="1" fill="#0000ff"/>
</g>
<g shape-rendering="crispEdges">
<rect x="476" y="84" width="583" height="6" fill="#000"/>
<rect x="476" y="510" width="583" height="6" fill="#000"/>
<rect x="476" y="84" width="6" height="432" fill="#000"/>
<rect x="1053" y="84" width="6" height="432" fill="#000"/>
</g>
<g style="font-family:'Liberation Serif','Times New Roman',Times,serif;font-size:43px" fill="#000">
<text x="452.4" y="527.5" text-anchor="end">0</text>
<text x="452.4" y="456.5" text-anchor="end">0.2</text>
<text x="452.4" y="385.5" text-anchor="end">0.4</text>
<text x="452.4" y="314.5" text-anchor="end">0.6</text>
<text x="452.4" y="243.5" text-anchor="end">0.8</text>
<text x="452.4" y="172.5" text-anchor="end">1</text>
<text x="452.4" y="101.5" text-anchor="end">1.2</text>
<text x="485.0" y="571" text-anchor="middle">1.5</text>
<text x="599.9" y="571" text-anchor="middle">2</text>
<text x="714.5" y="571" text-anchor="middle">2.5</text>
<text x="829.8" y="571" text-anchor="middle">3</text>
<text x="944.6" y="571" text-anchor="middle">3.5</text>
<text x="660.4" y="635.6">Re Z, Ohm</text>
<text transform="translate(379,395.3) rotate(-90)" xml:space="preserve">Im Z,   Ohm</text>
</g>
</svg>
</body></html>
